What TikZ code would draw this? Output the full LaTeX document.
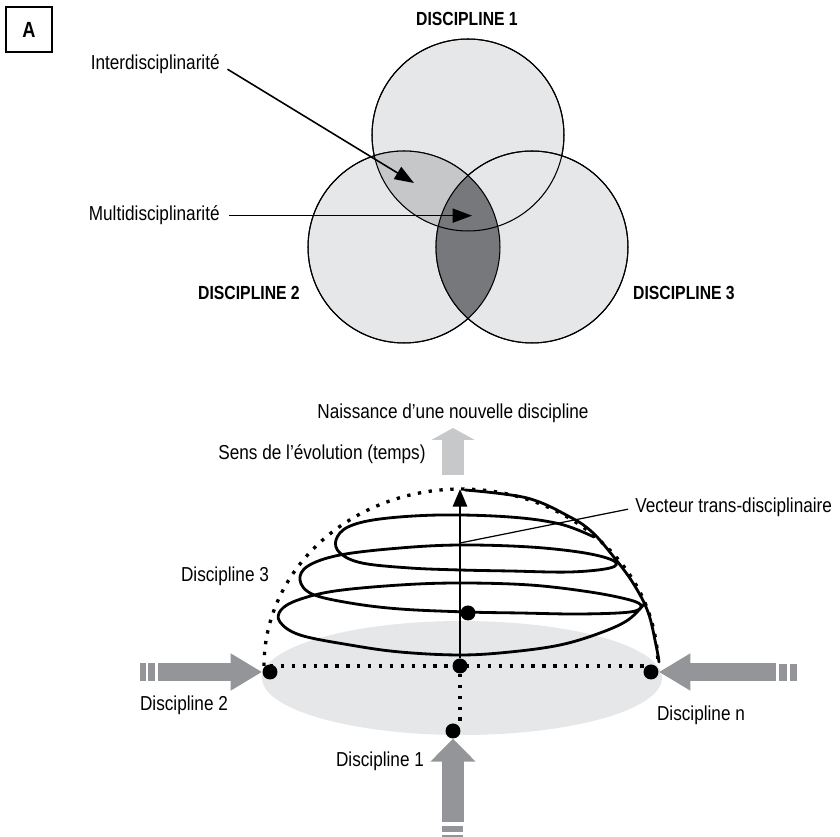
\documentclass[tikz,border=0pt]{standalone}
\usepackage{fontspec}
\setmainfont{Liberation Sans}[FakeStretch=0.85, BoldFeatures={FakeStretch=0.83}]
\usetikzlibrary{arrows.meta}

\definecolor{pale}{HTML}{E6E7E8}
\definecolor{mid}{HTML}{C6C7C9}
\definecolor{deep}{HTML}{77787B}
\definecolor{haze}{HTML}{C7C8CA}
\definecolor{steel}{HTML}{939598}

\tikzset{
    discset/.style={circle, draw=black, line width=0.6pt, fill=pale, minimum size=3.84cm, inner sep=0pt},
    lbl/.style={font=\fontsize{11.5}{13}\selectfont, inner sep=0pt},
    big/.style={font=\fontsize{10.8}{12}\selectfont\bfseries, inner sep=0pt},
    blob/.style={circle, fill=black, minimum size=0.3cm, inner sep=0pt},
    dotline/.style={line width=1.9pt, dash pattern=on 1.9pt off 4.3pt},
    pointer/.style={line width=0.9pt, -{Triangle[length=11pt, width=8pt]}},
    side/.style={steel, line width=10pt, -{Triangle[length=18pt, width=20pt]}},
    rise/.style={steel, line width=12pt, -{Triangle[length=13pt, width=25pt]}},
}

\begin{document}
\begin{tikzpicture}[x=0.02cm, y=-0.02cm]
    \useasboundingbox (0,0) rectangle (840,837);

    % tag
    \node (tag) at (29,29.5) [draw, line width=0.6pt, minimum width=0.92cm, minimum height=0.9cm, inner sep=0pt, font=\fontsize{12.5}{14}\selectfont\bfseries] {A};

    % venn
    \node (c1) at (468,135) [discset] {};
    \node (c2) at (404,247) [discset] {};
    \node (c3) at (532,247) [discset] {};
    \begin{scope}
        \clip (c1.center) circle[radius=1.92cm];
        \fill[mid] (c2.center) circle[radius=1.92cm];
    \end{scope}
    \begin{scope}
        \clip (c2.center) circle[radius=1.92cm];
        \fill[deep] (c3.center) circle[radius=1.92cm];
    \end{scope}
    \foreach \c in {c1,c2,c3}
        \draw[line width=0.6pt] (\c.center) circle[radius=1.92cm];

    \node (n1) at (467,26) [big, anchor=base] {DISCIPLINE 1};
    \node (n2) at (249,300) [big, anchor=base] {DISCIPLINE 2};
    \node (n3) at (684,300) [big, anchor=base] {DISCIPLINE 3};

    \node (inter) at (220,70) [lbl, anchor=base east] {Interdisciplinarité};
    \node (multi) at (220,221) [lbl, anchor=base east] {Multidisciplinarité};
    \coordinate (interTip) at (414,183);
    \coordinate (multiTip) at (472,216);
    \draw [pointer, shorten <=5pt] (inter.east)--(interTip);
    \draw [pointer, shorten <=5pt] (multi.east)--(multi.east -| multiTip);

    % evolution
    \node (birth) at (453,419) [lbl, anchor=base] {Naissance d’une nouvelle discipline};
    \node (sens) at (322,460) [lbl, anchor=base] {Sens de l’évolution (temps)};
    \coordinate (evoFoot) at (453,475);
    \coordinate (evoHead) at (453,428);
    \draw [haze, line width=12.5pt, -{Triangle[length=6.8pt, width=24.4pt]}] (evoFoot)--(evoHead);

    % base disc and dome
    \fill[pale] (462,678) ellipse[x radius=4cm, y radius=1.14cm];
    \draw[dotline] (264,666) arc[start angle=180, end angle=0, x radius=3.94cm, y radius=3.54cm];

    \node (d0) at (460,666) [blob] {};
    \node (d2) at (270,672) [blob] {};
    \node (dn) at (651,672) [blob] {};
    \node (d1) at (453,731) [blob] {};
    \node (d3) at (468,613) [blob] {};

    \draw[dotline] (d2 |- d0)--(dn |- d0);
    \draw[dotline] (d0)--(d0 |- d1.north);

    % spiral
    \draw[line width=1.6pt, line join=round, line cap=round] plot[smooth, tension=0.6] coordinates {
        (465,490) (527,498) (570,517) (592,532) (613,556) (633,583) (648,612) (656,645) (659,662)};
    \draw[line width=1.6pt, line join=round, line cap=round] plot[smooth, tension=0.6] coordinates {
        (645,603) (628,620) (600,633) (560,645) (510,652) (460,655) (400,652) (350,645) (300,635) (280,622)
        (281,610) (298,600) (335,591) (400,585) (460,583) (530,585) (590,592) (630,600) (641,606)
        (630,612) (580,614) (520,613) (467,612) (400,609) (350,603) (312,594) (300,580)
        (308,566) (340,555) (400,548) (460,545) (530,547) (585,553) (614,561)
        (610,568) (570,572) (510,571) (460,570) (410,568) (362,563) (340,553) (336,540)
        (348,527) (380,519) (440,515) (510,517) (560,524) (594,537)};

    % vector
    \coordinate (apex) at (460,489);
    \draw [line width=1.5pt, -{Triangle[length=10pt, width=8pt]}] (d0)--(apex);
    \node (vect) at (635,513) [lbl, anchor=base west] {Vecteur trans-disciplinaire};
    \coordinate (vecFoot) at (460,543);
    \draw [line width=0.7pt, shorten >=4pt] (vecFoot)--(vect.west);

    % inputs
    \node (lab3) at (225,582) [lbl, anchor=base] {Discipline 3};
    \node (lab2) at (184,711) [lbl, anchor=base] {Discipline 2};
    \node (lab1) at (380,767) [lbl, anchor=base] {Discipline 1};
    \node (labn) at (701,721) [lbl, anchor=base] {Discipline n};

    \coordinate (in2) at (158,672);
    \coordinate (inn) at (776,672);
    \coordinate (in1) at (453,822);
    \draw [side] (in2)--(d2);
    \draw [side] (inn)--(dn);
    \draw [rise] (in1)--(d1);

    \fill[steel] (140,663) rectangle (146,681);
    \fill[steel] (148,663) rectangle (155,681);
    \fill[steel] (779,664) rectangle (787,681);
    \fill[steel] (790,664) rectangle (797,681);
    \fill[steel] (442,826) rectangle (463,832);
    \fill[steel] (442,835) rectangle (463,837);
\end{tikzpicture}
\end{document}
